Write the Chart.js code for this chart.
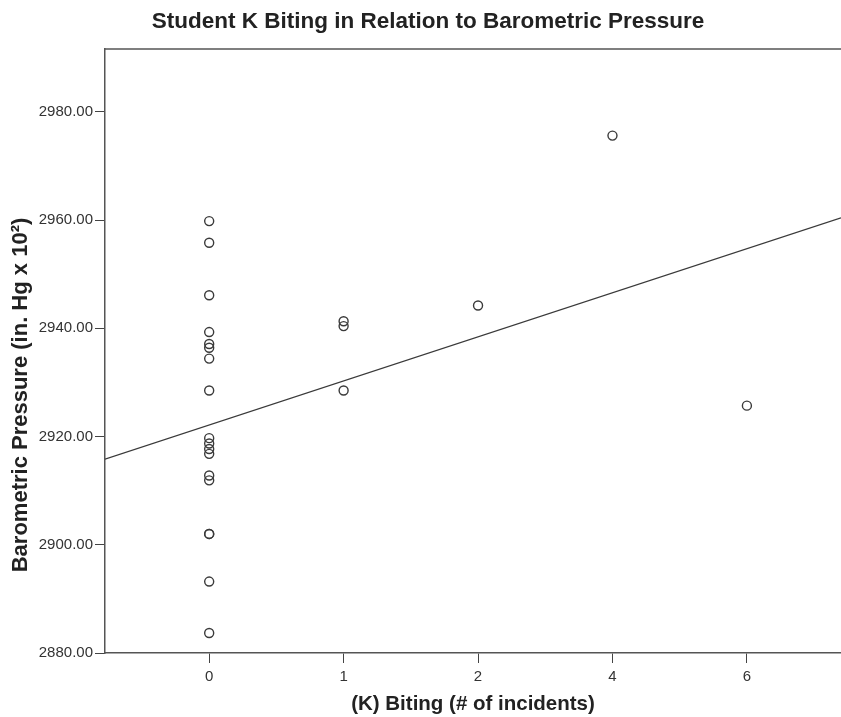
<!DOCTYPE html>
<html>
<head>
<meta charset="utf-8">
<script src="https://cdn.jsdelivr.net/npm/chart.js@4"></script>
<style>
  body { margin: 0; background: #fff; }
  canvas { display: block; }
</style>
</head>
<body>
<canvas id="scatter" width="841" height="717"></canvas>
<script>
// x axis is ordinal: the categories sit at equal spacing
const bitingCategories = ['0', '1', '2', '4', '6'];
const pressureTicks = [2880, 2900, 2920, 2940, 2960, 2980];

const bitingIncidents = [0, 0, 0, 0, 0, 0, 0, 0, 0, 0, 0, 0, 0, 0, 0, 0, 0, 0,
                         1, 1, 1, 2, 4, 6];
const pressure = [2959.8, 2955.8, 2946.1, 2939.3, 2937.1, 2936.4, 2934.4, 2928.5,
                  2919.7, 2918.7, 2917.7, 2916.8, 2912.8, 2911.9, 2902.0, 2902.0, 2893.2, 2883.7,
                  2941.3, 2940.4, 2928.5, 2944.2, 2975.6, 2925.7];

// fitted line, read at the left and right ends of the x range
const fitPressure = [2915.8, 2960.4];

const xMin = -0.775, xMax = 4.70;
const yMin = 2880, yMax = 2991.6;

const points = bitingIncidents.map((b, i) => ({
  x: bitingCategories.indexOf(String(b)),
  y: pressure[i]
}));

const ink = '#3a3a3a';
const font = '"Liberation Sans", Arial, sans-serif';

const frame = {
  id: 'frame',
  afterDraw(chart) {
    const ctx = chart.ctx;
    const a = chart.chartArea;
    ctx.save();
    // top border of the plot
    ctx.strokeStyle = '#555';
    ctx.lineWidth = 1.5;
    ctx.beginPath();
    ctx.moveTo(a.left, a.top);
    ctx.lineTo(a.right, a.top);
    ctx.stroke();
    // heading
    ctx.fillStyle = '#222';
    ctx.font = 'bold 22.5px ' + font;
    ctx.textAlign = 'center';
    ctx.textBaseline = 'middle';
    ctx.fillText('Student K Biting in Relation to Barometric Pressure', 428, 22);
    // y axis title
    ctx.translate(21, 395);
    ctx.rotate(-Math.PI / 2);
    ctx.font = 'bold 22px ' + font;
    ctx.fillText('Barometric Pressure (in. Hg x 10²)', 0, 0);
    ctx.restore();
  }
};

let chart = new Chart(document.getElementById('scatter'), {
  type: 'scatter',
  data: {
    datasets: [{
      label: 'Biting',
      data: points,
      pointStyle: 'circle',
      pointRadius: 4.5,
      pointBorderWidth: 1.4,
      borderColor: ink,
      backgroundColor: 'rgba(0,0,0,0)'
    }, {
      type: 'line',
      label: 'Fit',
      data: [{x: xMin, y: fitPressure[0]}, {x: xMax, y: fitPressure[1]}],
      borderColor: ink,
      borderWidth: 1.3,
      pointRadius: 0,
      fill: false
    }]
  },
  options: {
    responsive: false,
    animation: false,
    events: [],
    layout: { autoPadding: false, padding: { top: 49, left: 0, right: 0, bottom: 0 } },
    plugins: {
      legend: { display: false },
      tooltip: { enabled: false }
    },
    scales: {
      x: {
        type: 'linear',
        min: xMin,
        max: xMax,
        afterBuildTicks: (scale) => {
          scale.ticks = bitingCategories.map((c, i) => ({ value: i }));
        },
        afterFit: (scale) => {
          scale.height = 64;
          scale.paddingLeft = 0;
          scale.paddingRight = 0;
        },
        grid: { drawOnChartArea: false, tickLength: 10, color: '#444' },
        border: { color: '#555', width: 1.5 },
        ticks: {
          color: '#333',
          padding: 5,
          font: { family: font, size: 15 },
          callback: (v) => bitingCategories[v]
        },
        title: {
          display: true,
          text: '(K) Biting (# of incidents)',
          color: '#222',
          padding: { top: 7, bottom: 0 },
          font: { family: font, size: 20.5, weight: 'bold' }
        }
      },
      y: {
        min: yMin,
        max: yMax,
        afterBuildTicks: (scale) => {
          scale.ticks = pressureTicks.map(v => ({ value: v }));
        },
        afterFit: (scale) => { scale.width = 105; },
        grid: { drawOnChartArea: false, tickLength: 10, color: '#444' },
        border: { color: '#555', width: 1.5 },
        ticks: {
          color: '#333',
          padding: 2,
          font: { family: font, size: 15 },
          callback: (v) => v.toFixed(2)
        }
      }
    }
  },
  plugins: [frame]
});
</script>
</body>
</html>
